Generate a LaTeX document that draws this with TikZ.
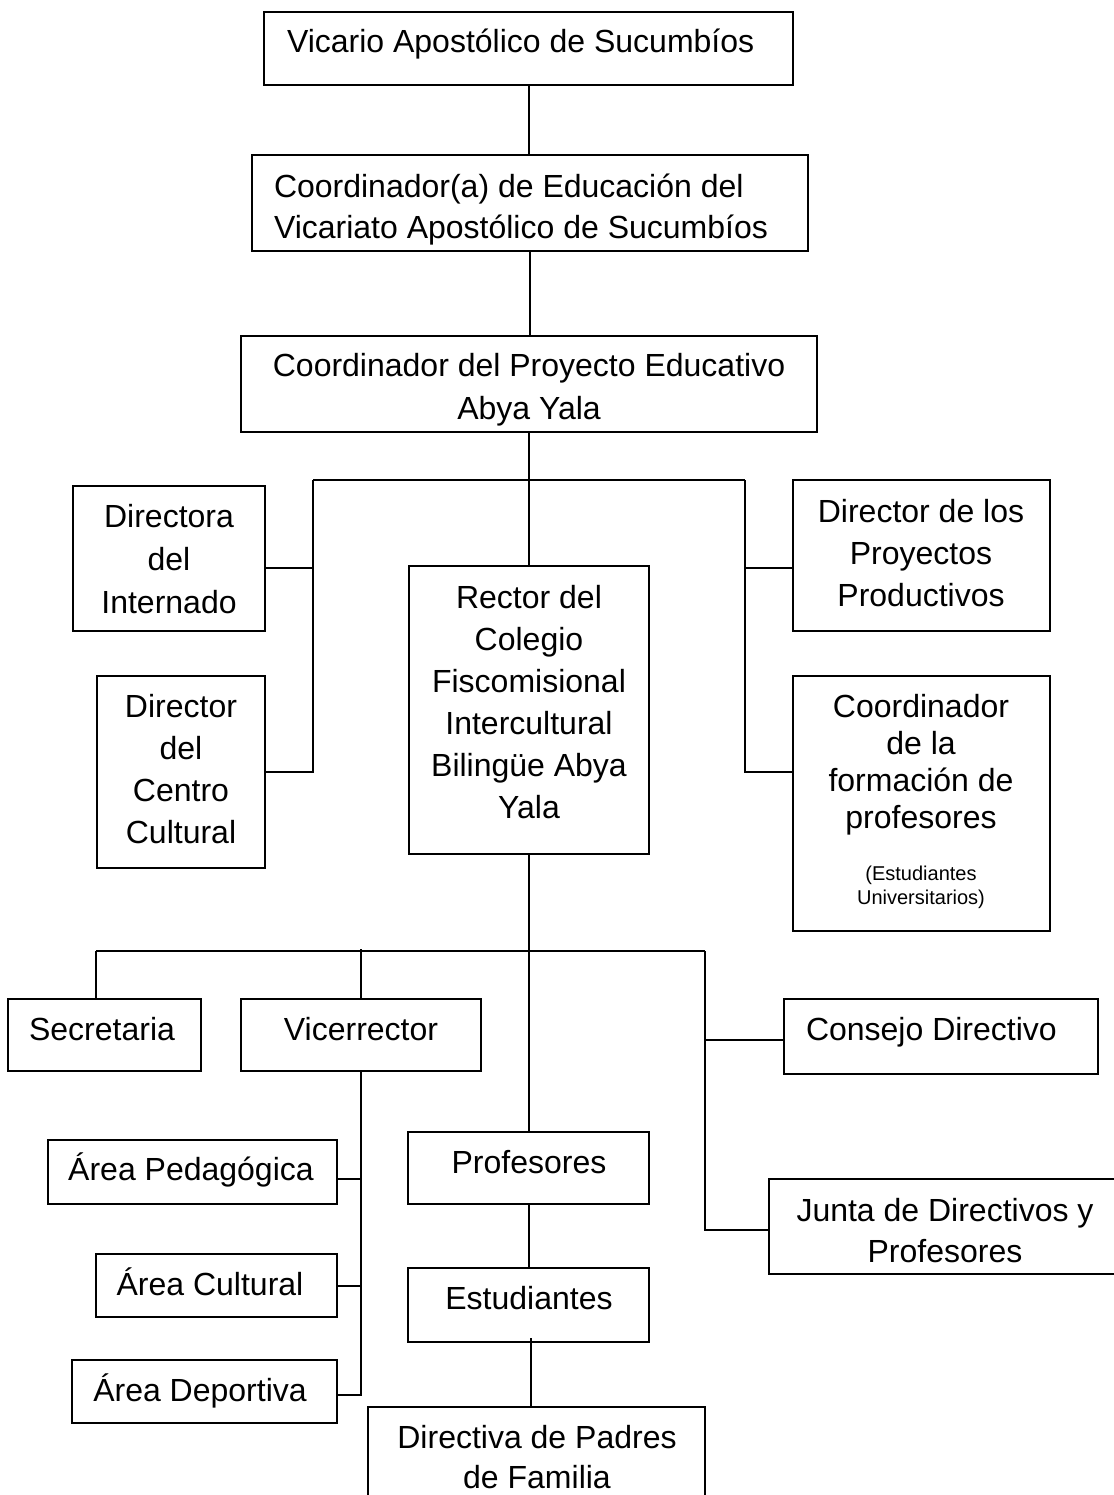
\documentclass[tikz,border=0pt]{standalone}
\usepackage{fontspec}
\setmainfont{Liberation Sans}
\newcommand{\mkbox}[5]{\node[boxst, minimum width={(#3)-(#1)}, minimum height={(#4)-(#2)}] (#5) at ({((#1)+(#3))/2},{((#2)+(#4))/2}) {};}
\newcommand{\ml}[2]{\begin{tabular}[t]{@{}#1@{}}#2\end{tabular}}
\begin{document}
\begin{tikzpicture}[x=1pt,y=-1pt,
  boxst/.style={draw, rectangle, line width=2pt, inner sep=0pt, outer sep=0pt},
  conn/.style={line width=2pt},
  txt/.style={inner sep=0pt, outer sep=0pt, anchor=base},
  big/.style={font=\fontsize{32}{42}\selectfont},
]
\useasboundingbox (0,0) rectangle (1113,1495);

% boxes
\mkbox{264}{12}{793}{85}{vic}
\mkbox{252}{155}{808}{251}{coe}
\mkbox{241}{336}{817}{432}{cpe}
\mkbox{73}{486}{265}{631}{dint}
\mkbox{97}{676}{265}{868}{dcc}
\mkbox{409}{566}{649}{854}{rec}
\mkbox{793}{480}{1050}{631}{dpp}
\mkbox{793}{676}{1050}{931}{cfp}
\mkbox{8}{999}{201}{1071}{sec}
\mkbox{241}{999}{481}{1071}{vice}
\mkbox{784}{999}{1098}{1074}{cdir}
\mkbox{48}{1140}{337}{1204}{aped}
\mkbox{96}{1254}{337}{1317}{acul}
\mkbox{72}{1360}{337}{1423}{adep}
\mkbox{408}{1132}{649}{1204}{prof}
\mkbox{408}{1268}{649}{1342}{est}
\mkbox{769}{1179}{1125}{1274}{junta}
\mkbox{368}{1407}{705}{1515}{padres}

% connectors (top)
\draw[conn] (vic.south) -- (vic.south |- coe.north);
\draw[conn] (coe.south) -- (coe.south |- cpe.north);
\draw[conn] (cpe.south) -- (cpe.south |- rec.north);
\coordinate (hl) at (313,480);
\coordinate (hr) at (745,480);
\draw[conn] (hl) -- (hr);
\coordinate (jdint) at (313,568);
\coordinate (jdcc) at (313,772);
\draw[conn] (hl) -- (jdcc) -- (dcc.east |- jdcc);
\draw[conn] (dint.east |- jdint) -- (jdint);
\coordinate (jdpp) at (745,568);
\coordinate (jcfp) at (745,772);
\draw[conn] (hr) -- (jcfp) -- (cfp.west |- jcfp);
\draw[conn] (jdpp) -- (dpp.west |- jdpp);

% connectors (bottom)
\draw[conn] (rec.south) -- (rec.south |- prof.north);
\coordinate (bl) at (96,951);
\coordinate (br) at (705,951);
\draw[conn] (bl) -- (br);
\draw[conn] (bl) -- (bl |- sec.north);
\coordinate (jv) at (361,949);
\draw[conn] (jv) -- (vice.north);
\coordinate (japed) at (361,1179);
\coordinate (jacul) at (361,1286);
\coordinate (jadep) at (361,1395);
\draw[conn] (vice.south) -- (jadep) -- (adep.east |- jadep);
\draw[conn] (japed) -- (aped.east |- japed);
\draw[conn] (jacul) -- (acul.east |- jacul);
\coordinate (jcdir) at (705,1040);
\coordinate (jjun) at (705,1230);
\draw[conn] (br) -- (jjun) -- (junta.west |- jjun);
\draw[conn] (jcdir) -- (cdir.west |- jcdir);
\draw[conn] (prof.south) -- (prof.south |- est.north);
\coordinate (jpad) at (531,1338);
\draw[conn] (jpad) -- (jpad |- padres.north);

% texts
\node[txt, big, anchor=base west] (tvic) at (287,53) {Vicario Apostólico de Sucumbíos};
\node[txt, anchor=base west, font=\fontsize{32}{41}\selectfont] (tcoe) at (274,198) {\ml{l}{Coordinador(a) de Educación del\\Vicariato Apostólico de Sucumbíos}};
\node[txt, font=\fontsize{32}{43}\selectfont] (tcpe) at (529,376) {\ml{c}{Coordinador del Proyecto Educativo\\Abya Yala}};
\node[txt, font=\fontsize{32}{43}\selectfont] (tdint) at (169,527) {\ml{c}{Directora\\del\\Internado}};
\node[txt, big] (tdcc) at (181,717) {\ml{c}{Director\\del\\Centro\\Cultural}};
\node[txt, big] (trec) at (529,608) {\ml{c}{Rector del\\Colegio\\Fiscomisional\\Intercultural\\Bilingüe Abya\\Yala}};
\node[txt, big] (tdpp) at (921,522) {\ml{c}{Director de los\\Proyectos\\Productivos}};
\node[txt, font=\fontsize{32}{37}\selectfont] (tcfp) at (921,717) {\ml{c}{Coordinador\\de la\\formación de\\profesores}};
\node[txt, font=\fontsize{20}{24}\selectfont] (tcfps) at (921,880) {\ml{c}{(Estudiantes\\Universitarios)}};
\node[txt, big] (tsec) at (102,1040) {Secretaria};
\node[txt, big] (tvice) at (361,1040) {Vicerrector};
\node[txt, big, anchor=base west] (tcdir) at (806,1040) {Consejo Directivo};
\node[txt, big] (taped) at (191,1180) {Área Pedagógica};
\node[txt, big] (tacul) at (210,1295) {Área Cultural};
\node[txt, big] (tadep) at (200,1401) {Área Deportiva};
\node[txt, big] (tprof) at (529,1173) {Profesores};
\node[txt, big] (test) at (529,1309) {Estudiantes};
\node[txt, font=\fontsize{32}{41}\selectfont] (tjun) at (945,1221) {\ml{c}{Junta de Directivos y\\Profesores}};
\node[txt, font=\fontsize{32}{40}\selectfont] (tpad) at (537,1448) {\ml{c}{Directiva de Padres\\de Familia}};
\end{tikzpicture}
\end{document}
